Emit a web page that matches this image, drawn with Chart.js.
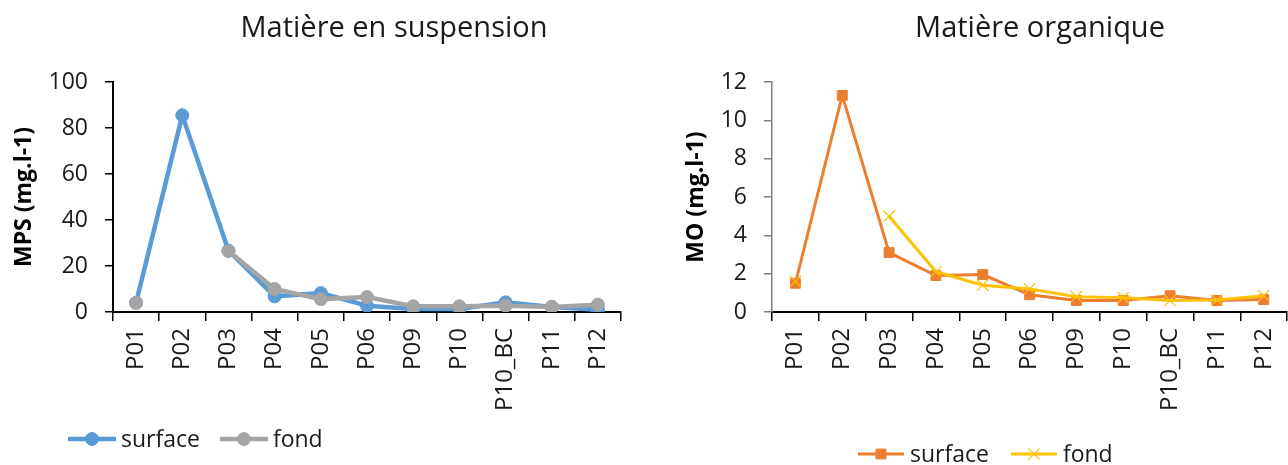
<!DOCTYPE html>
<html>
<head>
<meta charset="utf-8">
<script src="https://cdn.jsdelivr.net/npm/chart.js@4.4.1/dist/chart.umd.min.js"></script>
<style>
  html, body { margin: 0; padding: 0; background: #fff; overflow: hidden; width: 1288px; height: 465px; }
  .panel { position: absolute; top: 0; height: 465px; }
  #panelMps { left: 0; width: 640px; }
  #panelMo { left: 640px; width: 660px; }
</style>
</head>
<body>
<div class="panel" id="panelMps"><canvas id="mps" width="640" height="465"></canvas></div>
<div class="panel" id="panelMo"><canvas id="mo" width="660" height="465"></canvas></div>
<script>
// Sampling stations
const stations = ['P01', 'P02', 'P03', 'P04', 'P05', 'P06', 'P09', 'P10', 'P10_BC', 'P11', 'P12'];

// Suspended matter (mg/l) – surface and bottom samples
const mpsSurface = [4, 85.5, 26.7, 6.8, 8.2, 2.7, 1.3, 1.3, 4.2, 2.2, 1.0];
const mpsFond    = [4, null, 26.5, 10, 5.6, 6.5, 2.5, 2.5, 2.7, 2.2, 3.2];

// Organic matter (mg/l) – surface and bottom samples
const moSurface = [1.5, 11.3, 3.1, 1.9, 1.95, 0.9, 0.6, 0.6, 0.85, 0.6, 0.65];
const moFond    = [1.6, null, 5.0, 2.1, 1.4, 1.2, 0.8, 0.75, 0.6, 0.62, 0.85];

// Value axes: [min, max, step]
const mpsAxis = [0, 100, 20];
const moAxis  = [0, 12, 2];

const FONT = "'Open Sans', 'DejaVu Sans', sans-serif";
const INK = '#1a1a1a';

// Title centred at a given x
const panelTitle = {
  id: 'panelTitle',
  afterDraw(chart, args, opts) {
    const ctx = chart.ctx;
    ctx.save();
    ctx.font = `${opts.size}px ${FONT}`;
    ctx.fillStyle = INK;
    ctx.textAlign = 'center';
    ctx.textBaseline = 'alphabetic';
    ctx.fillText(opts.text, opts.x, opts.y);
    ctx.restore();
  }
};

function drawMarker(ctx, style, x, y, r) {
  ctx.beginPath();
  if (style === 'circle') {
    ctx.arc(x, y, r, 0, Math.PI * 2);
    ctx.fill();
    ctx.stroke();
  } else if (style === 'rect') {
    const s = r * Math.SQRT1_2;
    ctx.rect(x - s, y - s, 2 * s, 2 * s);
    ctx.fill();
    ctx.stroke();
  } else if (style === 'crossRot') {
    const s = r * Math.SQRT1_2;
    ctx.moveTo(x - s, y - s); ctx.lineTo(x + s, y + s);
    ctx.moveTo(x - s, y + s); ctx.lineTo(x + s, y - s);
    ctx.stroke();
  }
}

// Horizontal legend: line sample with its marker, then the label
const lineLegend = {
  id: 'lineLegend',
  afterDraw(chart, args, opts) {
    const ctx = chart.ctx;
    let x = opts.x;
    const y = opts.y;
    ctx.save();
    ctx.font = `${opts.size}px ${FONT}`;
    ctx.textBaseline = 'middle';
    ctx.textAlign = 'left';
    chart.data.datasets.forEach(ds => {
      ctx.strokeStyle = ds.borderColor;
      ctx.lineWidth = ds.borderWidth;
      ctx.beginPath();
      ctx.moveTo(x, y);
      ctx.lineTo(x + opts.lineLength, y);
      ctx.stroke();
      ctx.fillStyle = ds.pointBackgroundColor;
      ctx.strokeStyle = ds.pointBorderColor;
      ctx.lineWidth = ds.pointBorderWidth;
      drawMarker(ctx, ds.pointStyle, x + opts.lineLength / 2, y, ds.pointRadius);
      x += opts.lineLength + opts.gap;
      ctx.fillStyle = INK;
      ctx.fillText(ds.label, x, y + 1);
      x += ctx.measureText(ds.label).width + opts.spacing;
    });
    ctx.restore();
  }
};

function makeChart(id, cfg) {
  const [yMin, yMax, yStep] = cfg.axis;
  return new Chart(document.getElementById(id), {
    type: 'line',
    data: { labels: stations, datasets: cfg.datasets },
    plugins: [panelTitle, lineLegend],
    options: {
      responsive: false,
      animation: false,
      devicePixelRatio: 1,
      layout: { padding: { left: 0, right: cfg.padRight, top: 82, bottom: 0 } },
      plugins: {
        legend: { display: false },
        title: { display: false },
        tooltip: { enabled: false },
        panelTitle: cfg.title,
        lineLegend: cfg.legend
      },
      scales: {
        x: {
          type: 'category',
          offset: true,
          grid: { offset: true, drawOnChartArea: false, drawTicks: true, tickLength: 9, color: '#000', lineWidth: 1.5 },
          border: { display: true, color: '#000', width: 2 },
          ticks: { autoSkip: false, minRotation: 90, maxRotation: 90, padding: 7, color: INK, font: { family: FONT, size: 24 } },
          afterFit(scale) { scale.height = 465 - 312; }
        },
        y: {
          min: yMin, max: yMax,
          grid: { drawOnChartArea: false, drawTicks: true, tickLength: 8, color: cfg.yAxisColor, lineWidth: 1.5 },
          border: { display: true, color: cfg.yAxisColor, width: cfg.yAxisWidth },
          ticks: { stepSize: yStep, padding: 17, color: INK, font: { family: FONT, size: 23 } },
          title: {
            display: true, text: cfg.yTitle, color: '#000',
            font: { family: FONT, size: 23, weight: 'bold' },
            padding: { top: cfg.yTitlePad, bottom: 0 }
          },
          afterFit(scale) { scale.width = cfg.yWidth; }
        }
      }
    }
  });
}

makeChart('mps', {
  axis: mpsAxis,
  padRight: 640 - 621,
  yWidth: 113,
  yTitle: 'MPS (mg.l-1)',
  yTitlePad: 11,
  yAxisColor: '#000',
  yAxisWidth: 2,
  title: { text: 'Matière en suspension', x: 394, y: 37, size: 29 },
  legend: { x: 68, y: 439, size: 23, lineLength: 48, gap: 5, spacing: 20 },
  datasets: [
    {
      label: 'surface', data: mpsSurface, order: 1,
      borderColor: '#5B9BD5', backgroundColor: '#5B9BD5', borderWidth: 4.5,
      pointStyle: 'circle', pointRadius: 6.5, pointBackgroundColor: '#5B9BD5', pointBorderColor: '#5B9BD5', pointBorderWidth: 1,
      tension: 0, spanGaps: false
    },
    {
      label: 'fond', data: mpsFond, order: 0,
      borderColor: '#A5A5A5', backgroundColor: '#A5A5A5', borderWidth: 4.5,
      pointStyle: 'circle', pointRadius: 6.5, pointBackgroundColor: '#A5A5A5', pointBorderColor: '#A5A5A5', pointBorderWidth: 1,
      tension: 0, spanGaps: false
    }
  ]
});

makeChart('mo', {
  axis: moAxis,
  padRight: 660 - 652,
  yWidth: 132,
  yTitle: 'MO (mg.l-1)',
  yTitlePad: 43,
  yAxisColor: '#7f7f7f',
  yAxisWidth: 1.5,
  title: { text: 'Matière organique', x: 400, y: 37, size: 29 },
  legend: { x: 218, y: 454, size: 23, lineLength: 46, gap: 6, spacing: 22 },
  datasets: [
    {
      label: 'surface', data: moSurface, order: 1,
      borderColor: '#ED7D31', backgroundColor: '#ED7D31', borderWidth: 3,
      pointStyle: 'rect', pointRadius: 7, pointBackgroundColor: '#ED7D31', pointBorderColor: '#ED7D31', pointBorderWidth: 1,
      tension: 0, spanGaps: false
    },
    {
      label: 'fond', data: moFond, order: 0,
      borderColor: '#FFC000', backgroundColor: '#FFC000', borderWidth: 3,
      pointStyle: 'crossRot', pointRadius: 8, pointBackgroundColor: '#FFC000', pointBorderColor: '#FFC000', pointBorderWidth: 1.2,
      tension: 0, spanGaps: false
    }
  ]
});
</script>
</body>
</html>
